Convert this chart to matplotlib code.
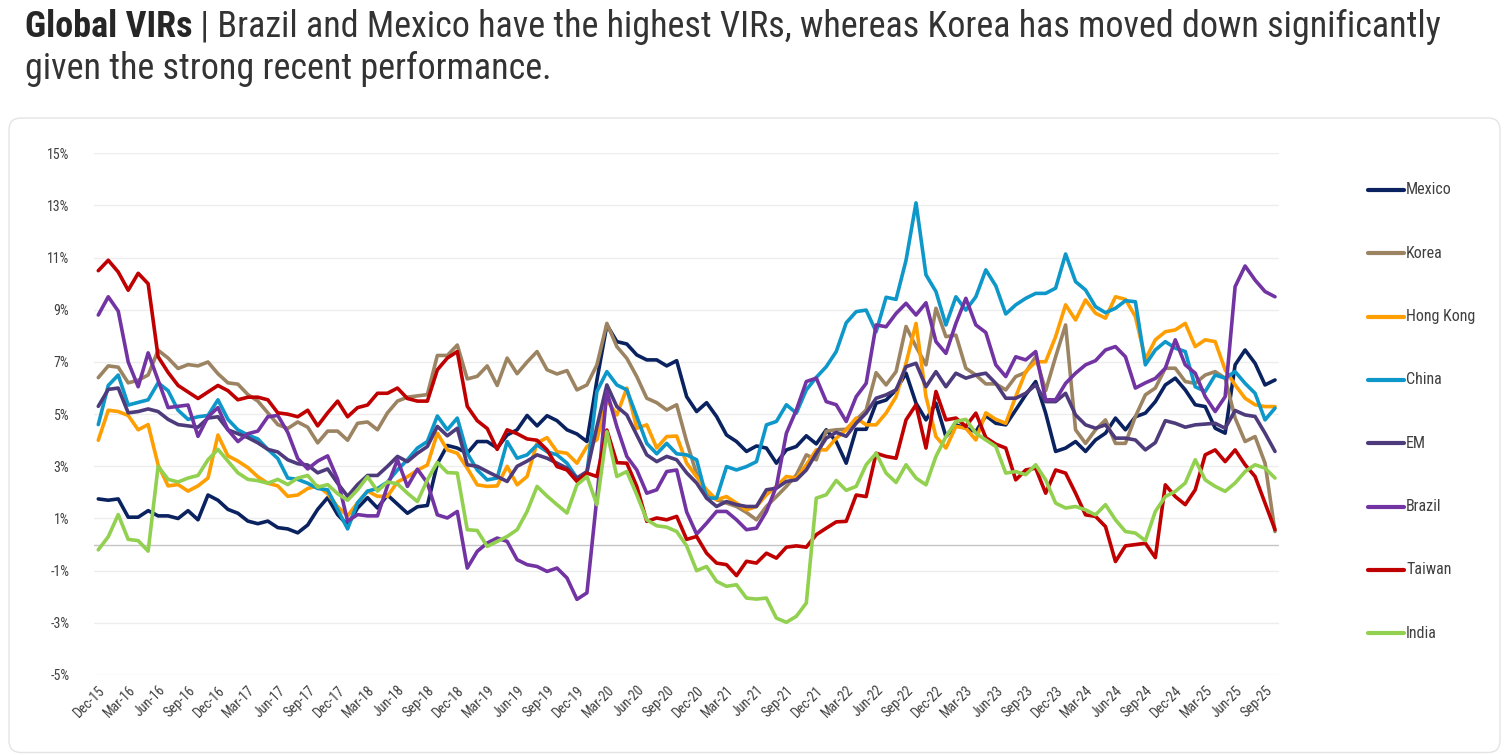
import matplotlib
matplotlib.use('Agg')
import matplotlib.pyplot as plt
from matplotlib import font_manager
from matplotlib.lines import Line2D
from matplotlib.patches import FancyBboxPatch
import numpy as np
import pandas as pd

names = {f.name for f in font_manager.fontManager.ttflist}
cands = ['Liberation Sans Narrow', 'Roboto Condensed', 'Open Sans Condensed', 'Roboto', 'DejaVu Sans']
FONT = next(c for c in cands if c in names)
plt.rcParams['font.family'] = [FONT, 'DejaVu Sans']

# ---------------- data (monthly, Dec-15 .. Oct-25) ----------------
dates = pd.date_range('2015-12-01', periods=119, freq='MS')

mexico = [1.75, 1.7, 1.75, 1.05, 1.05, 1.3, 1.1, 1.1, 1.0, 1.3, 0.95, 1.9, 1.7, 1.35, 1.2, 0.9, 0.8, 0.9, 0.65, 0.6,
          0.45, 0.75, 1.35, 1.8, 1.15, 0.75, 1.4, 1.8, 1.4, 1.9,
          1.55, 1.2, 1.45, 1.5, 3.1, 3.8, 3.7, 3.5, 3.95, 3.95, 3.7, 4.2, 4.4, 4.95, 4.55,
          4.94, 4.75, 4.4, 4.24, 3.95, 6.3, 8.42, 7.78, 7.69, 7.27, 7.08, 7.08, 6.85, 7.05, 5.67,
          5.1, 5.44, 4.91, 4.2, 3.95, 3.57, 3.78, 3.7, 3.12, 3.63, 3.76, 4.17, 3.86, 4.4, 3.95, 3.12,
          4.42, 4.42, 5.42, 5.54, 5.93, 6.57, 5.42, 4.78, 5.42, 4.14, 4.59, 4.46, 4.33, 4.94, 4.65,
          4.59, 5.16, 5.74, 6.25, 5.04, 3.57, 3.7, 3.95, 3.57, 4.01, 4.27, 4.85, 4.4, 4.9, 5.04,
          5.48, 6.12, 6.38, 5.93, 5.36, 5.29, 4.46, 4.27, 6.89, 7.46, 6.95, 6.12, 6.31]

korea = [6.4, 6.85, 6.8, 6.2, 6.3, 6.5, 7.45, 7.15, 6.75, 6.9, 6.85, 7.0, 6.55, 6.2, 6.15, 5.75, 5.5, 5.05, 4.6, 4.45,
         4.7, 4.5, 3.9, 4.35, 4.35, 4.0, 4.65, 4.7, 4.4, 5.05,
         5.5, 5.65, 5.7, 5.75, 7.25, 7.25, 7.65, 6.35, 6.45, 6.85, 6.1, 7.15, 6.55, 7.0, 7.4,
         6.7, 6.54, 6.67, 5.93, 6.12, 6.89, 8.48, 7.59, 7.14, 6.44, 5.61, 5.44, 5.16, 5.36, 3.95,
         2.7, 1.97, 1.72, 1.59, 1.46, 1.23, 0.95, 1.46, 1.84, 2.23, 2.67, 3.44, 3.25, 4.35, 4.4, 4.42,
         4.78, 5.16, 6.59, 6.12, 6.63, 8.36, 7.59, 6.89, 9.06, 7.97, 8.03, 6.76, 6.5, 6.16, 6.16,
         5.93, 6.44, 6.6, 7.2, 5.9, 7.2, 8.42, 4.4, 3.88, 4.4, 4.78, 3.88, 3.88, 4.91, 5.74,
         6.0, 6.76, 6.76, 6.25, 6.18, 6.5, 6.63, 6.38, 4.85, 3.95, 4.14, 3.12, 0.5]

hong_kong = [4.0, 5.15, 5.1, 4.95, 4.4, 4.6, 3.05, 2.25, 2.3, 2.05, 2.25, 2.55, 4.2, 3.4, 3.2, 2.95, 2.6, 2.35, 2.25, 1.85,
             1.9, 2.15, 2.25, 1.95, 1.45, 1.1, 1.6, 2.05, 1.85, 1.85,
             2.4, 2.6, 2.85, 3.05, 4.27, 3.63, 3.5, 2.93, 2.29, 2.23, 2.25, 3.0, 2.29, 2.61, 3.9,
             4.1, 3.56, 3.5, 3.12, 3.76, 4.02, 5.55, 4.97, 6.0, 4.46, 4.59, 3.7, 4.14, 4.16, 3.12,
             2.6, 2.1, 1.72, 1.84, 1.59, 1.33, 1.46, 1.91, 2.23, 2.61, 2.55, 3.06, 3.63, 3.63, 4.08, 4.4,
             4.85, 4.59, 4.59, 5.04, 5.67, 6.95, 8.48, 5.67, 4.14, 3.7, 4.53, 4.46, 4.01, 5.05, 4.8,
             4.65, 5.67, 6.63, 7.01, 7.01, 7.97, 9.19, 8.61, 9.38, 8.87, 8.68, 9.5, 9.4, 8.74, 7.1,
             7.85, 8.16, 8.23, 8.48, 7.59, 7.85, 7.78, 6.7, 6.12, 5.61, 5.36, 5.29, 5.29]

china = [4.6, 6.1, 6.5, 5.35, 5.45, 5.55, 6.2, 5.9, 5.15, 4.8, 4.9, 4.95, 5.55, 4.8, 4.4, 4.2, 4.05, 3.65, 3.3, 2.55,
         2.5, 2.35, 2.15, 2.1, 1.35, 0.6, 1.6, 2.05, 2.15, 2.4,
         2.86, 3.25, 3.7, 3.95, 4.93, 4.4, 4.85, 3.5, 2.86, 2.48, 2.55, 3.95, 3.31, 3.44, 3.82,
         3.56, 3.44, 3.12, 2.55, 2.74, 5.87, 6.63, 6.12, 5.93, 4.91, 3.88, 3.48, 3.88, 3.48, 3.44,
         3.25, 1.78, 1.78, 2.99, 2.86, 2.99, 3.18, 4.59, 4.72, 5.36, 5.04, 5.93, 6.41, 6.82, 7.4, 8.5,
         8.93, 8.99, 8.16, 9.48, 9.4, 10.9, 13.1, 10.34, 9.7, 8.42, 9.5, 8.99, 9.5, 10.53, 9.92,
         8.84, 9.19, 9.44, 9.63, 9.63, 9.83, 11.14, 10.08, 9.76, 9.12, 8.89, 9.06, 9.35, 9.31, 6.89,
         7.46, 7.78, 7.53, 7.4, 6.05, 5.87, 6.5, 6.38, 6.63, 6.18, 5.8, 4.78, 5.23]

em = [5.3, 5.95, 6.0, 5.05, 5.1, 5.2, 5.1, 4.8, 4.6, 4.55, 4.5, 4.85, 4.9, 4.4, 4.25, 4.1, 3.9, 3.65, 3.55, 3.25,
      3.1, 3.05, 2.75, 2.9, 2.35, 1.85, 2.3, 2.65, 2.65, 3.0,
      3.38, 3.18, 3.5, 3.76, 4.53, 4.17, 4.46, 3.06, 3.0, 2.8, 2.61, 2.42, 3.0, 3.2, 3.44,
      3.31, 3.12, 2.93, 2.55, 2.8, 4.52, 6.12, 5.29, 4.97, 4.2, 3.44, 3.18, 3.38, 3.25, 2.75,
      2.36, 1.78, 1.46, 1.65, 1.53, 1.46, 1.46, 2.1, 2.16, 2.42, 2.48, 2.86, 3.5, 4.08, 4.3, 4.15,
      4.65, 5.04, 5.61, 5.74, 5.93, 6.82, 6.95, 6.05, 6.63, 6.05, 6.57, 6.38, 6.5, 6.57, 6.18,
      5.61, 5.61, 5.8, 6.12, 5.48, 5.48, 5.8, 4.97, 4.59, 4.46, 4.59, 4.08, 4.08, 4.01, 3.63,
      3.91, 4.75, 4.65, 4.5, 4.59, 4.62, 4.65, 4.46, 5.14, 4.97, 4.91, 4.27, 3.57]

brazil = [8.8, 9.5, 8.95, 7.0, 6.05, 7.35, 6.3, 5.25, 5.3, 5.35, 4.15, 4.9, 5.25, 4.4, 3.95, 4.25, 4.35, 4.9, 4.95, 4.3,
          3.3, 2.9, 3.2, 3.4, 2.5, 0.9, 1.15, 1.1, 1.1, 2.25,
          3.25, 2.23, 2.89, 2.36, 1.14, 1.02, 1.27, -0.9, -0.26, 0.06, 0.25, 0.12, -0.58, -0.77, -0.84,
          -1.03, -0.9, -1.28, -2.1, -1.85, 1.8, 5.87, 4.52, 3.38, 2.86, 1.97, 2.1, 2.8, 2.86, 1.25,
          0.4, 0.82, 1.27, 1.27, 0.95, 0.57, 0.63, 1.27, 2.23, 4.27, 5.16, 6.25, 6.38, 5.48, 5.36, 4.72,
          5.67, 6.18, 8.42, 8.35, 8.86, 9.25, 8.8, 9.27, 7.78, 7.33, 8.48, 9.44, 8.42, 8.13, 6.89,
          6.44, 7.2, 7.08, 7.4, 5.55, 5.55, 6.18, 6.57, 6.89, 7.05, 7.46, 7.59, 7.2, 6.0, 6.2,
          6.37, 6.76, 7.85, 6.89, 6.57, 5.67, 5.1, 5.67, 9.89, 10.68, 10.14, 9.7, 9.5]

taiwan = [10.5, 10.9, 10.45, 9.75, 10.4, 10.0, 7.2, 6.6, 6.1, 5.85, 5.6, 5.85, 6.1, 5.9, 5.55, 5.65, 5.65, 5.55, 5.05,
          5.0, 4.9, 5.15, 4.55, 5.05, 5.5, 4.9, 5.25, 5.35, 5.8, 5.8,
          6.0, 5.6, 5.5, 5.5, 6.7, 7.15, 7.4, 5.3, 4.75, 4.45, 3.65, 4.4, 4.25, 4.05, 4.0,
          3.63, 2.99, 2.86, 2.42, 2.74, 2.61, 4.39, 3.14, 3.12, 2.23, 0.89, 1.02, 0.95, 1.08, 0.2,
          0.31, -0.33, -0.71, -0.77, -1.19, -0.64, -0.71, -0.33, -0.52, -0.1, -0.05, -0.1, 0.38, 0.63, 0.87, 0.89,
          1.9, 1.84, 3.5, 3.38, 3.31, 4.78, 5.36, 3.7, 5.87, 4.78, 4.85, 4.53, 5.04, 4.1, 3.85,
          3.7, 2.48, 2.86, 2.93, 1.97, 2.86, 2.74, 1.97, 1.14, 1.08, 0.69, -0.65, -0.05, 0.0, 0.05,
          -0.5, 2.29, 1.84, 1.53, 2.1, 3.44, 3.63, 3.18, 3.63, 3.06, 2.61, 1.59, 0.57]

india = [-0.2, 0.3, 1.15, 0.2, 0.15, -0.25, 3.0, 2.5, 2.4, 2.55, 2.65, 3.25, 3.65, 3.2, 2.75, 2.5, 2.45, 2.35, 2.5, 2.3,
         2.55, 2.65, 2.2, 2.3, 1.95, 1.7, 2.1, 2.6, 2.05, 2.4,
         2.33, 1.97, 1.65, 2.48, 3.15, 2.76, 2.74, 0.57, 0.54, -0.07, 0.12, 0.31, 0.57, 1.27, 2.23,
         1.86, 1.53, 1.21, 2.29, 2.61, 1.53, 4.33, 2.61, 2.8, 1.91, 0.95, 0.72, 0.67, 0.5, -0.05,
         -1.0, -0.84, -1.41, -1.6, -1.54, -2.05, -2.09, -2.05, -2.82, -2.98, -2.75, -2.24, 1.78, 1.91, 2.46, 2.08,
         2.23, 3.06, 3.5, 2.74, 2.38, 3.06, 2.55, 2.29, 3.38, 4.14, 4.72, 4.8, 4.27, 4.01, 3.76,
         2.74, 2.8, 2.68, 3.06, 2.48, 1.59, 1.4, 1.46, 1.33, 1.14, 1.53, 0.95, 0.5, 0.44, 0.15,
         1.27, 1.84, 2.04, 2.36, 3.25, 2.48, 2.23, 2.04, 2.36, 2.8, 3.06, 2.93, 2.55]

series_names = ['Mexico', 'Korea', 'Hong Kong', 'China', 'EM', 'Brazil', 'Taiwan', 'India']
series_vals = [mexico, korea, hong_kong, china, em, brazil, taiwan, india]
series_colors = ['#0b2260', '#9c8462', '#ff9e00', '#0e97c9', '#4e3b7c', '#7233a3', '#c00000', '#92d050']

y_ticks = list(range(-5, 16, 2))
tick_step = 3

title_bold = 'Global VIRs'
title_rest = ' | Brazil and Mexico have the highest VIRs, whereas Korea has moved down significantly'
title_line2 = 'given the strong recent performance.'

# ---------------- figure ----------------
W, H = 1508, 755
fig = plt.figure(figsize=(W / 100, H / 100), dpi=100)
fig.patch.set_facecolor('white')

def px(x, y):
    return x / W, 1 - y / H

# card box (outline only)
box = FancyBboxPatch((0.09, 0.025), 14.91, 6.345, boxstyle='round,pad=0,rounding_size=0.12',
                     transform=fig.dpi_scale_trans, facecolor='none', edgecolor='#e4e4e4', lw=1.0, zorder=-5)
fig.patches.append(box)

left, right = 94.3, 1279.0
top, bottom = 153.3, 675.0
ax = fig.add_axes([left / W, 1 - bottom / H, (right - left) / W, (bottom - top) / H])
ax.set_facecolor('none')

x = np.arange(len(dates))
for name, vals, col in zip(series_names, series_vals, series_colors):
    ax.plot(x, vals, color=col, lw=2.6, solid_joinstyle='round', solid_capstyle='round', label=name)

ax.set_xlim(-0.4, len(dates) - 0.6)
ax.set_ylim(-5, 15)
ax.set_yticks(y_ticks)
ax.set_yticklabels([f'{v}%' for v in y_ticks])
ax.yaxis.grid(True, color='#ededed', lw=1.0)
ax.set_axisbelow(True)
ax.axhline(0, color='#c4c4c4', lw=1.0, zorder=1)
for s in ax.spines.values():
    s.set_visible(False)

tick_idx = x[::tick_step]
ax.set_xticks(tick_idx)
ax.set_xticklabels([d.strftime('%b-%y') for d in dates[::tick_step]], rotation=45, ha='right',
                   rotation_mode='anchor')
ax.tick_params(axis='x', length=0, pad=6, labelsize=10, labelcolor='#404040')
ax.tick_params(axis='y', length=0, pad=18, labelsize=10, labelcolor='#404040')

# legend (manual, right side)
for k, (name, col) in enumerate(zip(series_names, series_colors)):
    yy = 190 + 63.3 * k
    fig.add_artist(Line2D([1368 / W, 1404 / W], [1 - yy / H, 1 - yy / H], transform=fig.transFigure,
                          color=col, lw=3.0, solid_capstyle='round'))
    fig.text(1406 / W, 1 - yy / H, name, ha='left', va='center', fontsize=11.5, color='#404040')

# title, fitted to the reference width
fig.canvas.draw()
renderer = fig.canvas.get_renderer()
x0 = 25
target = 1468 - 25
size = 22
t1 = fig.text(*px(x0, 36.7), title_bold, fontsize=size, fontweight='bold', color='#262626', va='baseline')
t2 = fig.text(*px(x0, 36.7), title_rest, fontsize=size, color='#333333', va='baseline')
w = t1.get_window_extent(renderer).width + t2.get_window_extent(renderer).width
size = min(26.0, size * target / w)
t1.set_fontsize(size)
t2.set_fontsize(size)
w1 = t1.get_window_extent(renderer).width
t2.set_position(px(x0 + w1, 36.7))
fig.text(*px(x0, 79), title_line2, fontsize=size, color='#333333', va='baseline')

fig.savefig('out.png', dpi=100, facecolor='white')
